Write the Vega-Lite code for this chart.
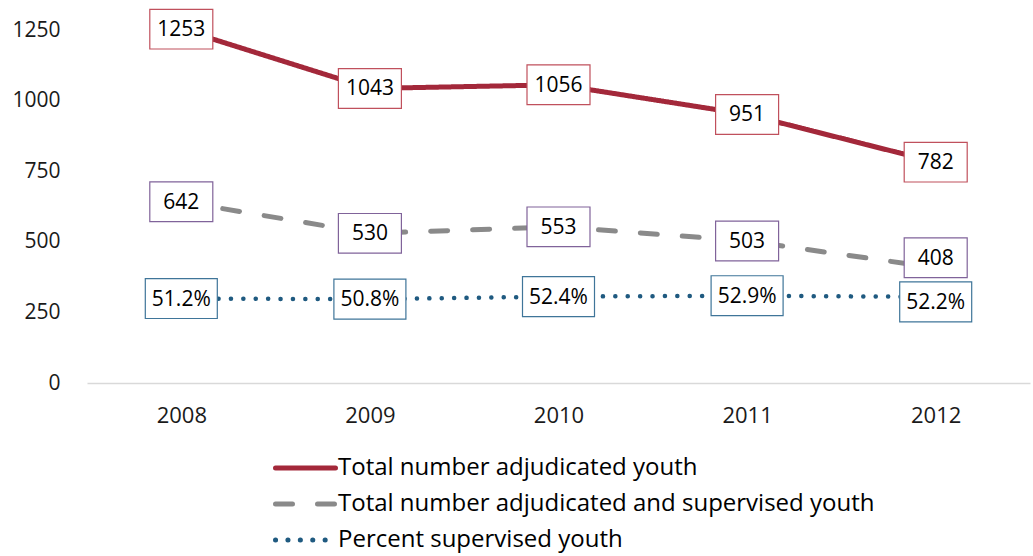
{
  "$schema": "https://vega.github.io/schema/vega-lite/v6.json",
  "width": 943,
  "height": 353,
  "autosize": "none",
  "padding": {"left": 87, "top": 30, "right": 3, "bottom": 173},
  "config": {"font": "Open Sans", "view": {"stroke": null}},
  "data": {"values": [
    {"year": "2008", "series": "Total number adjudicated youth", "value": 1253, "label": "1253"},
    {"year": "2009", "series": "Total number adjudicated youth", "value": 1043, "label": "1043"},
    {"year": "2010", "series": "Total number adjudicated youth", "value": 1056, "label": "1056"},
    {"year": "2011", "series": "Total number adjudicated youth", "value": 951, "label": "951"},
    {"year": "2012", "series": "Total number adjudicated youth", "value": 782, "label": "782"},
    {"year": "2008", "series": "Total number adjudicated and supervised youth", "value": 642, "label": "642"},
    {"year": "2009", "series": "Total number adjudicated and supervised youth", "value": 530, "label": "530"},
    {"year": "2010", "series": "Total number adjudicated and supervised youth", "value": 553, "label": "553"},
    {"year": "2011", "series": "Total number adjudicated and supervised youth", "value": 503, "label": "503"},
    {"year": "2012", "series": "Total number adjudicated and supervised youth", "value": 408, "label": "408"},
    {"year": "2008", "series": "Percent supervised youth", "value": 51.2, "label": "51.2%"},
    {"year": "2009", "series": "Percent supervised youth", "value": 50.8, "label": "50.8%"},
    {"year": "2010", "series": "Percent supervised youth", "value": 52.4, "label": "52.4%"},
    {"year": "2011", "series": "Percent supervised youth", "value": 52.9, "label": "52.9%"},
    {"year": "2012", "series": "Percent supervised youth", "value": 52.2, "label": "52.2%"}
  ]},
  "encoding": {
    "x": {"field": "year", "type": "ordinal", "scale": {"type": "point", "padding": 0.5},
      "axis": {"title": null, "labelAngle": 0, "ticks": false, "labelPadding": 22, "labelFontSize": 22, "labelColor": "#1a1a1a", "domainColor": "#d9d9d9", "domainWidth": 1.5}}
  },
  "layer": [
    {
      "transform": [{"filter": "datum.series !== 'Percent supervised youth'"}],
      "encoding": {
        "y": {"field": "value", "type": "quantitative", "scale": {"domain": [0, 1250]},
          "axis": {"title": null, "format": "d", "values": [0, 250, 500, 750, 1000, 1250], "grid": false, "domain": false, "ticks": false, "labelPadding": 27, "labelFontSize": 21, "labelColor": "#1a1a1a"}}
      },
      "layer": [
        {
          "mark": {"type": "line", "strokeWidth": 5, "strokeCap": "round"},
          "encoding": {
            "color": {"field": "series", "type": "nominal",
              "scale": {"domain": ["Total number adjudicated youth", "Total number adjudicated and supervised youth", "Percent supervised youth"], "range": ["#a3283a", "#8a8a8a", "#1f5a80"]},
              "legend": {"title": null, "orient": "none", "legendX": 186, "legendY": 420, "symbolType": "stroke", "symbolSize": 3600, "symbolStrokeWidth": 5, "labelFontSize": 24, "labelColor": "#000", "labelOffset": 0, "rowPadding": 0, "clipHeight": 36, "labelLimit": 800,
                "encode": {"symbols": {"update": {"strokeCap": {"value": "round"}}}}}},
            "strokeDash": {"field": "series", "type": "nominal",
              "scale": {"domain": ["Total number adjudicated youth", "Total number adjudicated and supervised youth", "Percent supervised youth"], "range": [[1, 0], [17, 25], [0.1, 12.3]]},
              "legend": {"title": null, "orient": "none", "legendX": 186, "legendY": 420, "symbolType": "stroke", "symbolSize": 3600, "symbolStrokeWidth": 5, "labelFontSize": 24, "labelColor": "#000", "labelOffset": 0, "rowPadding": 0, "clipHeight": 36, "labelLimit": 800,
                "encode": {"symbols": {"update": {"strokeCap": {"value": "round"}}}}}}
          }
        },
        {
          "mark": {"type": "point", "size": 3969, "filled": false, "fill": "white", "fillOpacity": 1, "strokeWidth": 1.2, "opacity": 1},
          "encoding": {
            "stroke": {"field": "series", "type": "nominal", "legend": null,
              "scale": {"domain": ["Total number adjudicated youth", "Total number adjudicated and supervised youth", "Percent supervised youth"], "range": ["#c0505c", "#80639a", "#3f7599"]}},
            "shape": {"condition": {"test": "datum.year === '2012' && datum.value < 500", "value": "M-1,-0.947L1,-0.947L1,0.313L-1,0.313Z"}, "value": "M-1,-0.63L1,-0.63L1,0.63L-1,0.63Z"}
          }
        },
        {
          "transform": [{"filter": "!(datum.year === '2012' && datum.value < 500)"}],
          "mark": {"type": "text", "fontSize": 21, "color": "#000", "baseline": "middle", "dy": 1},
          "encoding": {"text": {"field": "label"}}
        },
        {
          "transform": [{"filter": "datum.year === '2012' && datum.value < 500"}],
          "mark": {"type": "text", "fontSize": 21, "color": "#000", "baseline": "middle", "dy": -9},
          "encoding": {"text": {"field": "label"}}
        }
      ]
    },
    {
      "transform": [{"filter": "datum.series === 'Percent supervised youth'"}],
      "encoding": {
        "y": {"field": "value", "type": "quantitative", "scale": {"domain": [0, 214]}, "axis": null}
      },
      "layer": [
        {
          "mark": {"type": "line", "strokeWidth": 4.5, "strokeCap": "round"},
          "encoding": {
            "color": {"field": "series", "type": "nominal"},
            "strokeDash": {"field": "series", "type": "nominal"}
          }
        },
        {
          "mark": {"type": "point", "size": 5184, "filled": false, "fill": "white", "fillOpacity": 1, "strokeWidth": 1.2, "opacity": 1},
          "encoding": {
            "stroke": {"field": "series", "type": "nominal", "legend": null},
            "shape": {"condition": {"test": "datum.year === '2012'", "value": "M-1,-0.416L1,-0.416L1,0.694L-1,0.694Z"}, "value": "M-1,-0.555L1,-0.555L1,0.555L-1,0.555Z"}
          }
        },
        {
          "transform": [{"filter": "datum.year !== '2012'"}],
          "mark": {"type": "text", "fontSize": 21, "color": "#000", "baseline": "middle", "dy": 1},
          "encoding": {"text": {"field": "label"}}
        },
        {
          "transform": [{"filter": "datum.year === '2012'"}],
          "mark": {"type": "text", "fontSize": 21, "color": "#000", "baseline": "middle", "dy": 6},
          "encoding": {"text": {"field": "label"}}
        }
      ]
    }
  ],
  "resolve": {"scale": {"y": "independent"}}
}
